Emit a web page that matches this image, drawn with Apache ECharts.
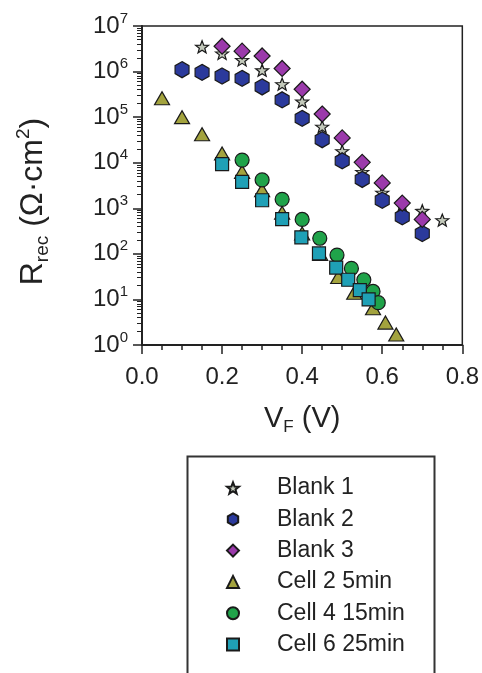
<!DOCTYPE html>
<html>
<head>
<meta charset="utf-8">
<style>
html,body{margin:0;padding:0;background:#fff;}
#chart{width:482px;height:673px;}
</style>
<script src="https://cdn.jsdelivr.net/npm/echarts@6/dist/echarts.min.js"></script>
</head>
<body>
<div id="chart"></div>
<script>
// ---- data ----
var seriesNames = ['Blank 1', 'Blank 2', 'Blank 3', 'Cell 2 5min', 'Cell 4 15min', 'Cell 6 25min'];

var blank1V = [0.15, 0.20, 0.25, 0.30, 0.35, 0.40, 0.45, 0.50, 0.55, 0.60, 0.65, 0.70, 0.75];
var blank1R = [3.5e6, 2.5e6, 1.8e6, 1.07e6, 5.3e5, 2.2e5, 6.2e4, 1.8e4, 6.3e3, 2.2e3, 1.2e3, 880, 550];

var blank2V = [0.10, 0.15, 0.20, 0.25, 0.30, 0.35, 0.40, 0.45, 0.50, 0.55, 0.60, 0.65, 0.70];
var blank2R = [1.1e6, 9.6e5, 8.0e5, 7.1e5, 4.6e5, 2.4e5, 9.4e4, 3.2e4, 1.1e4, 4.3e3, 1.5e3, 650, 280];

var blank3V = [0.20, 0.25, 0.30, 0.35, 0.40, 0.45, 0.50, 0.55, 0.60, 0.65, 0.70];
var blank3R = [3.6e6, 2.8e6, 2.2e6, 1.17e6, 4.1e5, 1.17e5, 3.5e4, 1.02e4, 3.6e3, 1.3e3, 570];

var cell2V = [0.05, 0.10, 0.15, 0.20, 0.25, 0.30, 0.35, 0.40, 0.445, 0.49, 0.53, 0.577, 0.608, 0.635];
var cell2R = [2.6e5, 1.0e5, 4.2e4, 1.6e4, 6.3e3, 2.5e3, 800, 280, 100, 31, 14, 6.4, 3.1, 1.7];

var cell4V = [0.25, 0.30, 0.35, 0.40, 0.444, 0.487, 0.523, 0.554, 0.577, 0.59];
var cell4R = [1.14e4, 4.2e3, 1.57e3, 570, 220, 94, 48, 27, 15, 8.5];

var cell6V = [0.20, 0.25, 0.30, 0.35, 0.398, 0.442, 0.485, 0.515, 0.544, 0.566];
var cell6R = [9.3e3, 3.8e3, 1.5e3, 580, 230, 102, 50, 27, 16, 10];

var xTicks = [0.0, 0.2, 0.4, 0.6, 0.8];
var yExponents = [0, 1, 2, 3, 4, 5, 6, 7];

// ---- helpers ----
function zip(xs, ys) { return xs.map(function (x, i) { return [x, ys[i]]; }); }

var minorY = [];
for (var e = 0; e < 7; e++) {
  for (var k = 2; k <= 9; k++) minorY.push(k * Math.pow(10, e));
}

var STAR = 'path://M0,-1 L0.247,-0.34 L0.951,-0.309 L0.399,0.13 L0.588,0.809 L0,0.42 L-0.588,0.809 L-0.399,0.13 L-0.951,-0.309 L-0.247,-0.34 Z';
var HEX = 'path://M0,-1 L0.866,-0.5 L0.866,0.5 L0,1 L-0.866,0.5 L-0.866,-0.5 Z';

var styles = [
  { symbol: STAR, size: [13, 12], color: '#c3c9bb' },
  { symbol: HEX, size: [14, 16], color: '#2b3a9c' },
  { symbol: 'diamond', size: [16, 16], color: '#9b3aab' },
  { symbol: 'triangle', size: [15, 13], color: '#a3a33e' },
  { symbol: 'circle', size: [14, 14], color: '#20a34a' },
  { symbol: 'rect', size: [13, 13], color: '#1fa0b6' }
];
var dataSets = [
  zip(blank1V, blank1R), zip(blank2V, blank2R), zip(blank3V, blank3R),
  zip(cell2V, cell2R), zip(cell4V, cell4R), zip(cell6V, cell6R)
];

var series = seriesNames.map(function (name, i) {
  return {
    name: name,
    type: 'scatter',
    data: dataSets[i],
    symbol: styles[i].symbol,
    symbolSize: styles[i].size,
    itemStyle: { color: styles[i].color, borderColor: '#1a1a1a', borderWidth: 1.2, opacity: 1 },
    z: 2 + i
  };
});

var chart = echarts.init(document.getElementById('chart'), null, { renderer: 'canvas' });
var FONT = 'Liberation Sans, Arial, sans-serif';

chart.setOption({
  animation: false,
  backgroundColor: '#fff',
  textStyle: { fontFamily: FONT },
  grid: { left: 142, right: 19, top: 26, bottom: 328, show: true, borderColor: '#222', borderWidth: 1.5, backgroundColor: 'transparent' },
  xAxis: {
    type: 'value', min: 0, max: 0.8, interval: 0.2,
    name: '{a|V}{sub|F}{a| (V)}',
    nameLocation: 'middle', nameGap: 57,
    nameTextStyle: {
      color: '#222', fontFamily: FONT,
      rich: {
        a: { fontSize: 29, lineHeight: 34, color: '#222', fontFamily: FONT },
        sub: { fontSize: 17, lineHeight: 17, verticalAlign: 'bottom', color: '#222', fontFamily: FONT }
      }
    },
    axisLine: { show: true, lineStyle: { color: '#222', width: 2 } },
    axisTick: { show: true, length: 9, lineStyle: { color: '#222', width: 1.5 } },
    minorTick: { show: true, splitNumber: 4, length: 5, lineStyle: { color: '#222', width: 1.5 } },
    splitLine: { show: false },
    minorSplitLine: { show: false },
    axisLabel: {
      fontSize: 24, color: '#222', margin: 20, fontFamily: FONT,
      customValues: xTicks,
      formatter: function (v) { return v.toFixed(1); }
    }
  },
  yAxis: [{
    type: 'log', logBase: 10, min: 1, max: 1e7, interval: 1,
    name: '{a|R}{sub|rec}{a| (\u03A9\u00B7cm}{sup|2}{a|)}',
    nameLocation: 'middle', nameRotate: 90, nameGap: 90,
    nameTextStyle: {
      color: '#222', fontFamily: FONT, padding: [0, 32, 0, 0],
      rich: {
        a: { fontSize: 32, lineHeight: 38, color: '#222', fontFamily: FONT },
        sub: { fontSize: 19, lineHeight: 19, verticalAlign: 'bottom', color: '#222', fontFamily: FONT },
        sup: { fontSize: 19, lineHeight: 19, verticalAlign: 'top', color: '#222', fontFamily: FONT }
      }
    },
    axisLine: { show: true, lineStyle: { color: '#222', width: 2 } },
    axisTick: { show: true, length: 9, lineStyle: { color: '#222', width: 1.5 } },
    splitLine: { show: false },
    axisLabel: {
      color: '#222', margin: 14, fontFamily: FONT,
      customValues: yExponents.map(function (p) { return Math.pow(10, p); }),
      formatter: function (v) { return '{b|10}{s|' + Math.round(Math.log10(v)) + '}'; },
      rich: {
        b: { fontSize: 24, lineHeight: 30, color: '#222', fontFamily: FONT },
        s: { fontSize: 15, lineHeight: 15, verticalAlign: 'top', color: '#222', fontFamily: FONT }
      }
    }
  }, {
    type: 'log', logBase: 10, min: 1, max: 1e7, position: 'left', offset: 0,
    axisLine: { show: false },
    axisLabel: { show: false },
    splitLine: { show: false },
    axisTick: { show: true, length: 5, customValues: minorY, lineStyle: { color: '#222', width: 1 } }
  }],
  legend: {
    orient: 'vertical', left: 226, top: 476, padding: 0,
    itemWidth: 12, itemHeight: 12, itemGap: 7.3,
    data: seriesNames,
    textStyle: { fontSize: 23, lineHeight: 24, color: '#222', fontFamily: FONT, padding: [0, 0, 0, 33] }
  },
  graphic: [{
    type: 'rect', left: 185, top: 454, z: 0,
    shape: { width: 247, height: 240 },
    style: { fill: 'none', stroke: '#333', lineWidth: 2 }
  }],
  series: series
});
</script>
</body>
</html>
